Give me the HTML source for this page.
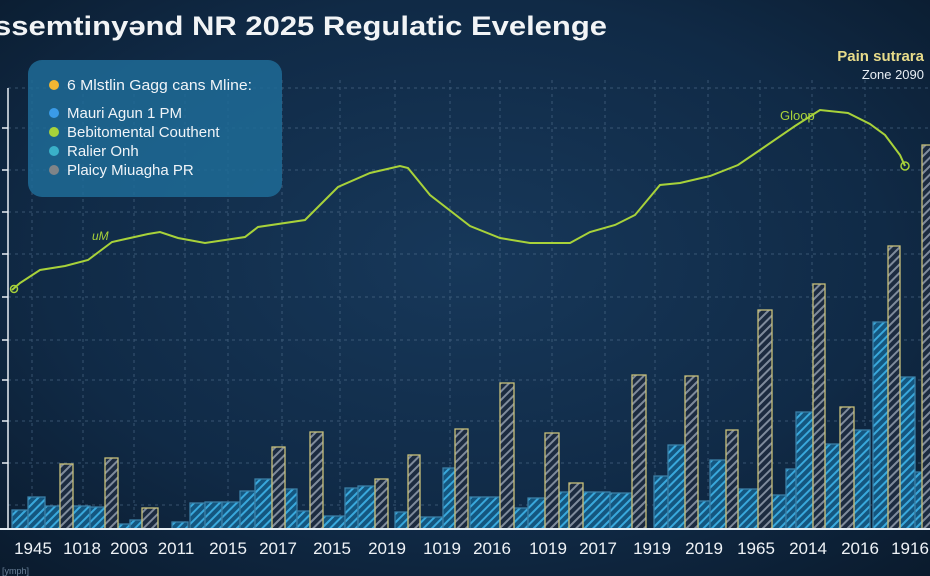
<!DOCTYPE html>
<html><head><meta charset="utf-8"><style>
html,body{margin:0;padding:0;width:930px;height:576px;overflow:hidden;background:#0d1f33}
svg{display:block}
text{font-family:"Liberation Sans",sans-serif}
</style></head><body>
<svg width="930" height="576" viewBox="0 0 930 576" xmlns="http://www.w3.org/2000/svg">
<defs>
<radialGradient id="bg" cx="0.5" cy="0.45" r="0.75">
<stop offset="0" stop-color="#17385a"/><stop offset="0.6" stop-color="#102a46"/><stop offset="1" stop-color="#0a1a2c"/>
</radialGradient>
<pattern id="hb" width="6" height="6" patternUnits="userSpaceOnUse" patternTransform="rotate(45)">
<rect width="6" height="6" fill="#14567f"/><rect width="2" height="6" fill="#39a8dc"/>
</pattern>
<pattern id="hg" width="6" height="6" patternUnits="userSpaceOnUse" patternTransform="rotate(45)">
<rect width="6" height="6" fill="#1c2b40"/><rect width="2" height="6" fill="#7f8b9c"/>
</pattern>
</defs>
<rect width="930" height="576" fill="url(#bg)"/>
<g stroke="#5a7896" stroke-width="1" stroke-dasharray="3,4" opacity="0.55">
<line x1="8" y1="88" x2="930" y2="88"/><line x1="8" y1="128" x2="930" y2="128"/><line x1="8" y1="170" x2="930" y2="170"/>
<line x1="8" y1="212" x2="930" y2="212"/><line x1="8" y1="254" x2="930" y2="254"/><line x1="8" y1="297" x2="930" y2="297"/>
<line x1="8" y1="340" x2="930" y2="340"/><line x1="8" y1="380" x2="930" y2="380"/><line x1="8" y1="421" x2="930" y2="421"/>
<line x1="8" y1="463" x2="930" y2="463"/><line x1="8" y1="505" x2="930" y2="505"/>
<line x1="32" y1="80" x2="32" y2="529"/><line x1="83" y1="80" x2="83" y2="529"/><line x1="134" y1="80" x2="134" y2="529"/>
<line x1="185" y1="80" x2="185" y2="529"/><line x1="228" y1="80" x2="228" y2="529"/><line x1="282" y1="80" x2="282" y2="529"/>
<line x1="340" y1="80" x2="340" y2="529"/><line x1="395" y1="80" x2="395" y2="529"/><line x1="450" y1="80" x2="450" y2="529"/>
<line x1="500" y1="80" x2="500" y2="529"/><line x1="552" y1="80" x2="552" y2="529"/><line x1="605" y1="80" x2="605" y2="529"/>
<line x1="655" y1="80" x2="655" y2="529"/><line x1="708" y1="80" x2="708" y2="529"/><line x1="760" y1="80" x2="760" y2="529"/>
<line x1="812" y1="80" x2="812" y2="529"/><line x1="865" y1="80" x2="865" y2="529"/>
</g>
<g stroke-width="1.3">
<g fill="url(#hb)" stroke="#3b7fa6">
<rect x="12" y="510" width="16" height="19"/><rect x="28" y="497" width="17" height="32"/><rect x="45" y="506" width="15" height="23"/>
<rect x="73" y="506" width="17" height="23"/><rect x="90" y="507" width="15" height="22"/><rect x="118" y="524" width="12" height="5"/>
<rect x="130" y="520" width="12" height="9"/><rect x="172" y="522" width="16" height="7"/><rect x="190" y="503" width="15" height="26"/>
<rect x="205" y="502" width="17" height="27"/><rect x="222" y="502" width="18" height="27"/><rect x="240" y="491" width="15" height="38"/>
<rect x="255" y="479" width="17" height="50"/><rect x="285" y="489" width="12" height="40"/><rect x="297" y="511" width="13" height="18"/>
<rect x="323" y="516" width="22" height="13"/><rect x="345" y="488" width="13" height="41"/><rect x="358" y="486" width="17" height="43"/>
<rect x="395" y="512" width="13" height="17"/><rect x="420" y="517" width="23" height="12"/><rect x="443" y="468" width="12" height="61"/>
<rect x="470" y="497" width="30" height="32"/><rect x="514" y="508" width="14" height="21"/><rect x="528" y="498" width="17" height="31"/>
<rect x="559" y="492" width="10" height="37"/><rect x="583" y="492" width="27" height="37"/><rect x="610" y="493" width="22" height="36"/>
<rect x="654" y="476" width="14" height="53"/><rect x="668" y="445" width="17" height="84"/><rect x="698" y="501" width="12" height="28"/>
<rect x="710" y="460" width="16" height="69"/><rect x="738" y="489" width="20" height="40"/><rect x="772" y="495" width="14" height="34"/>
<rect x="786" y="469" width="10" height="60"/><rect x="796" y="412" width="17" height="117"/><rect x="825" y="444" width="15" height="85"/>
<rect x="854" y="430" width="16" height="99"/><rect x="873" y="322" width="15" height="207"/><rect x="900" y="377" width="15" height="152"/>
<rect x="915" y="472" width="8" height="57"/>
</g>
<g fill="url(#hg)" stroke="#c8c07a">
<rect x="60" y="464" width="13" height="65"/><rect x="105" y="458" width="13" height="71"/><rect x="142" y="508" width="16" height="21"/>
<rect x="272" y="447" width="13" height="82"/><rect x="310" y="432" width="13" height="97"/><rect x="375" y="479" width="13" height="50"/>
<rect x="408" y="455" width="12" height="74"/><rect x="455" y="429" width="13" height="100"/><rect x="500" y="383" width="14" height="146"/>
<rect x="545" y="433" width="14" height="96"/><rect x="569" y="483" width="14" height="46"/><rect x="632" y="375" width="14" height="154"/>
<rect x="685" y="376" width="13" height="153"/><rect x="726" y="430" width="12" height="99"/><rect x="758" y="310" width="14" height="219"/>
<rect x="813" y="284" width="12" height="245"/><rect x="840" y="407" width="14" height="122"/><rect x="888" y="246" width="12" height="283"/>
<rect x="922" y="145" width="10" height="384"/>
</g>
</g>
<line x1="0" y1="529" x2="930" y2="529" stroke="#e8eef4" stroke-width="2"/>
<line x1="8" y1="88" x2="8" y2="529" stroke="#e8eef4" stroke-width="1.5"/>
<g stroke="#e8eef4" stroke-width="1.5">
<line x1="2" y1="128" x2="8" y2="128"/><line x1="2" y1="170" x2="8" y2="170"/><line x1="2" y1="212" x2="8" y2="212"/><line x1="2" y1="254" x2="8" y2="254"/>
<line x1="2" y1="297" x2="8" y2="297"/><line x1="2" y1="340" x2="8" y2="340"/><line x1="2" y1="380" x2="8" y2="380"/><line x1="2" y1="421" x2="8" y2="421"/><line x1="2" y1="463" x2="8" y2="463"/>
</g>
<polyline fill="none" stroke="#a8d23a" stroke-width="2" points="12,290 20,283 40,270 65,266 88,260 112,242 148,234 160,232 178,238 205,243 245,237 258,227 305,220 338,187 370,173 400,166 408,168 430,195 470,226 500,238 530,243 570,243 590,232 615,225 635,215 660,185 680,183 710,176 738,165 760,150 795,126 820,110 848,113 870,124 885,135 900,155 905,166"/>
<circle cx="14" cy="289" r="3.5" fill="none" stroke="#a8d23a" stroke-width="1.5"/>
<circle cx="905" cy="166" r="4" fill="none" stroke="#a8d23a" stroke-width="1.5"/>
<text x="92" y="240" font-size="12" fill="#a8d23a" font-style="italic">uM</text>
<text x="780" y="120" font-size="13" fill="#a8d23a">Gloop</text>
<text x="-6" y="35" font-size="27" font-weight="bold" fill="#f2f4f6" textLength="613" lengthAdjust="spacingAndGlyphs">ssemtinyənd NR 2025 Regulatic Evelenge</text>
<text x="924" y="61" font-size="15" font-weight="bold" fill="#e8dc8a" text-anchor="end">Pain sutrara</text>
<text x="924" y="79" font-size="13" fill="#e8eef4" text-anchor="end">Zone 2090</text>
<rect x="28" y="60" width="254" height="137" rx="14" fill="#1e6b96" opacity="0.85"/>
<g font-size="15" fill="#f0f4f8">
<circle cx="54" cy="85" r="5" fill="#f2b632"/><text x="67" y="90" textLength="185" lengthAdjust="spacingAndGlyphs">6 Mlstlin Gagg cans Mline:</text>
<circle cx="54" cy="113" r="5" fill="#3a9be8"/><text x="67" y="118">Mauri Agun 1 PM</text>
<circle cx="54" cy="132" r="5" fill="#a8d23a"/><text x="67" y="137">Bebitomental Couthent</text>
<circle cx="54" cy="151" r="5" fill="#3ab0c8"/><text x="67" y="156">Ralier Onh</text>
<circle cx="54" cy="170" r="5" fill="#7f8488"/><text x="67" y="175">Plaicy Miuagha PR</text>
</g>
<g font-size="17" fill="#eef2f6" text-anchor="middle">
<text x="33" y="554">1945</text><text x="82" y="554">1018</text><text x="129" y="554">2003</text><text x="176" y="554">2011</text>
<text x="228" y="554">2015</text><text x="278" y="554">2017</text><text x="332" y="554">2015</text><text x="387" y="554">2019</text>
<text x="442" y="554">1019</text><text x="492" y="554">2016</text><text x="548" y="554">1019</text><text x="598" y="554">2017</text>
<text x="652" y="554">1919</text><text x="704" y="554">2019</text><text x="756" y="554">1965</text><text x="808" y="554">2014</text>
<text x="860" y="554">2016</text><text x="910" y="554">1916</text>
</g>
<text x="2" y="574" font-size="9" fill="#6a8098">[ymph]</text>
</svg>
</body></html>
